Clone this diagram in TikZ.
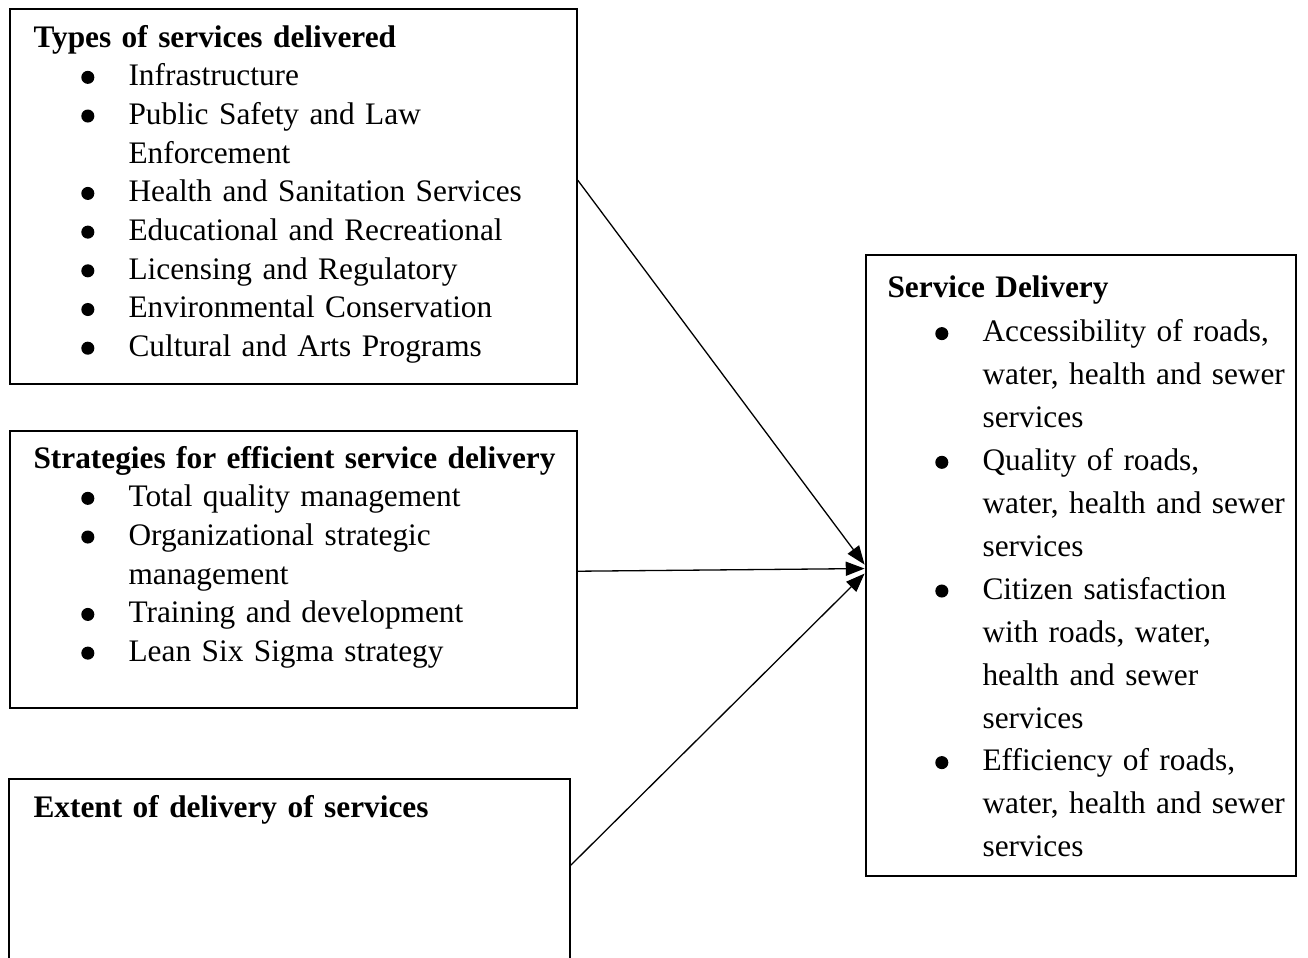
\documentclass[tikz,border=0pt]{standalone}
\usepackage{fontspec}
\setmainfont{Liberation Serif}
\usetikzlibrary{arrows.meta,fit,calc}

\newcommand{\dotmark}{\tikz[baseline=0pt]\fill (0pt,3.2pt) circle[radius=2.5pt];}
\newcommand{\bitem}[1]{\makebox[36.4pt][l]{\hspace{18.3pt}\dotmark}#1}
\newcommand{\bcont}[1]{\hspace*{36.4pt}#1}

\tikzset{
    panel/.style={draw, line width=0.6pt, inner sep=0pt},
    outcome/.style={panel, line width=1.1pt},
    listtext/.style={anchor=base west, inner sep=0pt, align=left, text width=215pt, font=\fontsize{12}{14.82}\selectfont},
    outtext/.style={listtext, font=\fontsize{12}{16.43}\selectfont},
    link/.style={-{Triangle[length=7.2pt,width=5.4pt]}, line width=0.5pt}
}

\begin{document}
\begin{tikzpicture}[x=0.383pt, y=-0.383pt]
    \clip (0, 0) rectangle (1308, 958);

    % boxes
    \node[panel, fit={(10, 9) (577, 384)}] (types) {};
    \node[panel, fit={(10, 431) (577, 708)}] (strategies) {};
    \node[panel, fit={(9, 779) (570, 1010)}] (extent) {};
    \node[outcome, fit={(866, 255) (1296, 876)}] (delivery) {};

    % texts
    \node[listtext] (typestext) at (33, 47) {\textbf{Types of services delivered}\\
        \bitem{Infrastructure}\\
        \bitem{Public Safety and Law}\\
        \bcont{Enforcement}\\
        \bitem{Health and Sanitation Services}\\
        \bitem{Educational and Recreational}\\
        \bitem{Licensing and Regulatory}\\
        \bitem{Environmental Conservation}\\
        \bitem{Cultural and Arts Programs}};
    \node[listtext] (strategiestext) at (33, 468) {\textbf{Strategies for efficient service delivery}\\
        \bitem{Total quality management}\\
        \bitem{Organizational strategic}\\
        \bcont{management}\\
        \bitem{Training and development}\\
        \bitem{Lean Six Sigma strategy}};
    \node[listtext] (extenttext) at (33, 817) {\textbf{Extent of delivery of services}};
    \node[outtext] (deliverytext) at (887, 297) {\textbf{Service Delivery}\\[0.8pt]
        \bitem{Accessibility of roads,}\\
        \bcont{water, health and sewer}\\
        \bcont{services}\\
        \bitem{Quality of roads,}\\
        \bcont{water, health and sewer}\\
        \bcont{services}\\
        \bitem{Citizen satisfaction}\\
        \bcont{with roads, water,}\\
        \bcont{health and sewer}\\
        \bcont{services}\\
        \bitem{Efficiency of roads,}\\
        \bcont{water, health and sewer}\\
        \bcont{services}};

    % links
    \coordinate (typesout) at ($(types.north east) + (0, 172)$);
    \coordinate (strategiesout) at ($(strategies.north east) + (0, 141)$);
    \coordinate (extentout) at ($(extent.north east) + (0, 87)$);
    \coordinate (deliveryin1) at ($(delivery.north west) + (0, 311)$);
    \coordinate (deliveryin2) at ($(delivery.north west) + (0, 315)$);
    \coordinate (deliveryin3) at ($(delivery.north west) + (0, 320)$);

    \draw[link] (typesout) -- (deliveryin1);
    \draw[link] (strategiesout) -- (deliveryin2);
    \draw[link] (extentout) -- (deliveryin3);
\end{tikzpicture}
\end{document}
